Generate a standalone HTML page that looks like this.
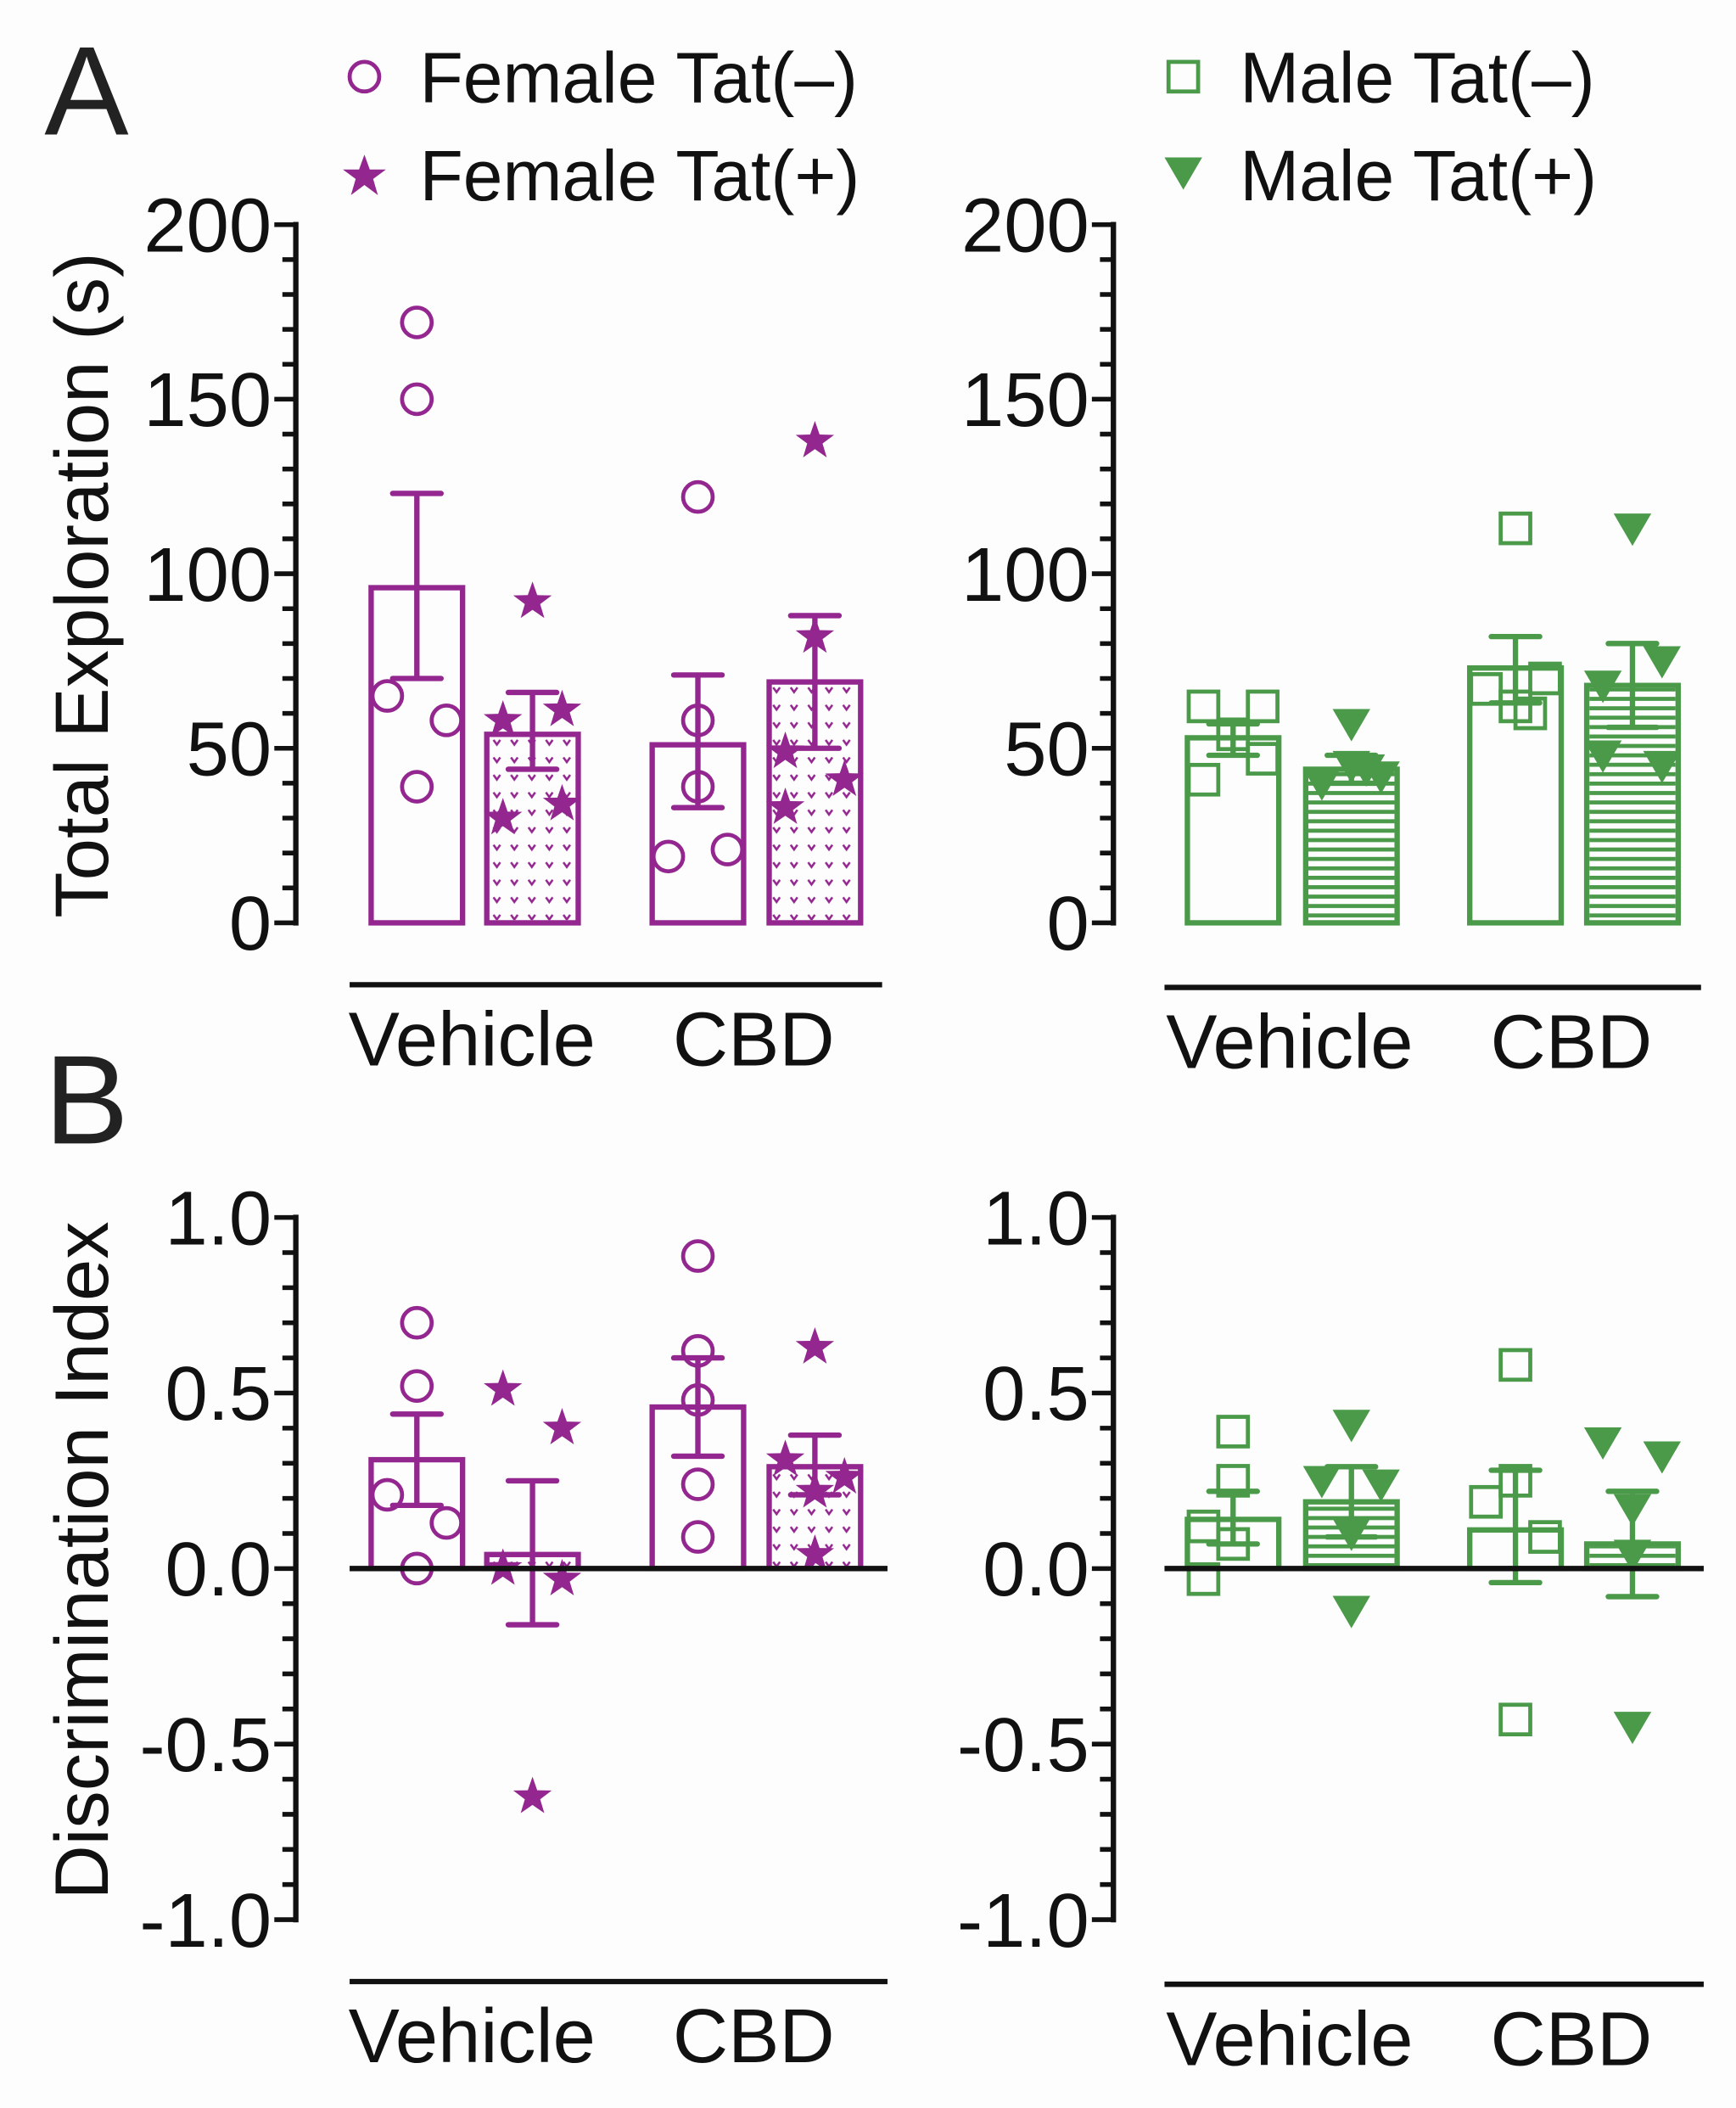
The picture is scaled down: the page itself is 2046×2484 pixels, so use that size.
<!DOCTYPE html>
<html><head><meta charset="utf-8"><style>
html,body{margin:0;padding:0;background:#fdfdfd;}
svg{display:block;font-family:"Liberation Sans",Arial,sans-serif;}
</style></head><body>
<svg id="fig" width="2046" height="2484" viewBox="0 0 1291 1567" preserveAspectRatio="none" xmlns="http://www.w3.org/2000/svg">
<defs>
<pattern id="vpat" patternUnits="userSpaceOnUse" width="13" height="13">
<path d="M3 4 L5.5 7.5 L8 4" fill="none" stroke="#93278f" stroke-width="1.6"/>
</pattern>
<pattern id="hpat" patternUnits="userSpaceOnUse" width="10" height="7">
<rect x="0" y="0" width="10" height="3" fill="#4a9a4a"/>
</pattern>
</defs>
<text x="33" y="100" font-size="94" fill="#222">A</text>
<text x="33" y="850" font-size="94" fill="#222">B</text>
<text transform="translate(80,435) rotate(-90)" text-anchor="middle" font-size="56" fill="#111">Total Exploration (s)</text>
<text transform="translate(80,1160) rotate(-90)" text-anchor="middle" font-size="56" fill="#111">Discrimination Index</text>
<g>
<circle cx="271" cy="57" r="11" fill="none" stroke="#93278f" stroke-width="3"/>
<text x="312" y="76" font-size="53" fill="#111">Female Tat(–)</text>
<path d="M271 115 L275 126 L287 126 L277.5 133 L281 145 L271 137.5 L261 145 L264.5 133 L255 126 L267 126Z" fill="#93278f"/>
<text x="312" y="149" font-size="53" fill="#111">Female Tat(+)</text>
<rect x="869" y="46" width="22" height="22" fill="none" stroke="#4a9a4a" stroke-width="3"/>
<text x="922" y="76" font-size="53" fill="#111">Male Tat(–)</text>
<path d="M866 117 L894 117 L880 141Z" fill="#4a9a4a"/>
<text x="922" y="149" font-size="53" fill="#111">Male Tat(+)</text>
</g>
<g id="plots"></g>
</svg>
<script>
// ---- data ----
const categories = ["Vehicle", "CBD"];
const groups = ["Tat(-)", "Tat(+)"];
const ticksA = [0, 50, 100, 150, 200];
const tickLabelsA = ["0", "50", "100", "150", "200"];
const ticksB = [-1, -0.5, 0, 0.5, 1];
const tickLabelsB = ["-1.0", "-0.5", "0.0", "0.5", "1.0"];
// Total exploration means (Veh Tat-, Veh Tat+, CBD Tat-, CBD Tat+)
const femaleExpMean = [96, 54, 51, 69];
const femaleExpUpper = [123, 66, 71, 88];
const femaleExpLower = [70, 44, 33, 50];
const femaleExpPoints = [[172,150,65,58,39],[92,58,61,30,34],[122,58,39,19,21],[138,82,49,33,41]];
const femaleExpSide = [[0,0,-1,1,0],[0,-1,1,-1,1],[0,0,0,-1,1],[0,0,-1,-1,1]];
const maleExpMean = [53, 44, 73, 68];
const maleExpUpper = [57, 48, 82, 80];
const maleExpLower = [48, 40, 63, 56];
const maleExpPoints = [[62,62,54,47,41],[57,45,40,42,44],[113,70,67,62,60],[113,75,68,48,45]];
const maleExpSide = [[-1,1,0,1,-1],[0,0,-1,1,0.5],[0,1,-1,0,0.5],[0,1,-1,-1,1]];
// Discrimination index
const femaleDiMean = [0.31, 0.04, 0.46, 0.29];
const femaleDiUpper = [0.44, 0.25, 0.60, 0.38];
const femaleDiLower = [0.18, -0.16, 0.32, 0.21];
const femaleDiPoints = [[0.70,0.52,0.21,0.13,0.0],[0.51,0.40,0.0,-0.03,-0.65],[0.89,0.62,0.48,0.24,0.09],[0.63,0.31,0.26,0.22,0.04]];
const femaleDiSide = [[0,0,-1,1,0],[-1,1,-1,1,0],[0,0,0,0,0],[0,-1,1,0,0]];
const maleDiMean = [0.14, 0.19, 0.11, 0.07];
const maleDiUpper = [0.22, 0.29, 0.28, 0.22];
const maleDiLower = [0.07, 0.09, -0.04, -0.08];
const maleDiPoints = [[0.39,0.25,0.12,0.07,-0.03],[0.41,0.25,0.24,0.10,-0.12],[0.58,0.25,0.19,0.09,-0.43],[0.36,0.32,0.17,0.04,-0.45]];
const maleDiSide = [[0,0,-1,0,-1],[0,-1,1,0,0],[0,0,-1,1,0],[-1,1,0,0,0]];

// ---- drawing ----
const NS = "http://www.w3.org/2000/svg";
const root = document.getElementById("plots");
function mk(tag, attrs, parent) {
  const e = document.createElementNS(NS, tag);
  for (const k in attrs) e.setAttribute(k, attrs[k]);
  (parent || root).appendChild(e);
  return e;
}
const PURPLE = "#93278f", GREEN = "#4a9a4a";

function panel(cfg) {
  const g = mk("g", {});
  
  
  const y = v => cfg.yBot - (v - cfg.min) / (cfg.max - cfg.min) * (cfg.yBot - cfg.yTop);
  const ax = mk("line", {x1: cfg.axisX, x2: cfg.axisX, y1: y(cfg.max) - 2, y2: y(cfg.min) + 2, stroke: "#111", "stroke-width": 4}, g);
  
  
  const n = Math.round((cfg.max - cfg.min) / cfg.minor);
  for (let i = 0; i <= n; i++) {
    const v = cfg.min + i * cfg.minor;
    const isMajor = cfg.ticks.some(t => Math.abs(t - v) < 1e-6);
    const t = mk("line", {x1: cfg.axisX - (isMajor ? 16 : 10), x2: cfg.axisX, y1: y(v), y2: y(v), stroke: "#111", "stroke-width": 3.5}, g);
    
    
  }
  cfg.ticks.forEach((tv, i) => {
    const tx = mk("text", {x: cfg.axisX - 18, y: y(tv) + 20, "text-anchor": "end", "font-size": 57, fill: "#111"}, g);
    tx.textContent = cfg.tickLabels[i];
    
    
  });
  const bw = 68;
  cfg.mean.forEach((m, i) => {
    const cx = cfg.centers[i];
    const fill = (i % 2 === 1) ? cfg.pattern : "none";
    const top = Math.min(y(m), y(0)), bot = Math.max(y(m), y(0));
    const b = mk("rect", {x: cx - bw/2, y: top, width: bw, height: bot - top, fill: "#fdfdfd", stroke: cfg.color, "stroke-width": 4}, g);
    
    
    if (fill !== "none") {
      const f = mk("rect", {x: cx - bw/2 + 2, y: top + 2, width: bw - 4, height: Math.max(0, bot - top - 4), fill: fill}, g);
      
      
    }
  });
  cfg.points.forEach((pts, i) => {
    const cx = cfg.centers[i];
    pts.forEach((v, j) => {
      const px = cx + cfg.side[i][j] * 22, py = y(v);
      let e;
      if (cfg.shape[i % 2] === "circle") e = mk("circle", {cx: px, cy: py, r: 11, fill: "none", stroke: cfg.color, "stroke-width": 3}, g);
      else if (cfg.shape[i % 2] === "square") e = mk("rect", {x: px - 11, y: py - 11, width: 22, height: 22, fill: "none", stroke: cfg.color, "stroke-width": 3}, g);
      else if (cfg.shape[i % 2] === "star") {
        let d = "";
        for (let k = 0; k < 10; k++) {
          const r = k % 2 ? 6 : 15, a = -Math.PI/2 + k * Math.PI / 5;
          d += (k ? "L" : "M") + (px + r*Math.cos(a)).toFixed(1) + " " + (py + r*Math.sin(a)).toFixed(1);
        }
        e = mk("path", {d: d + "Z", fill: cfg.color}, g);
      } else e = mk("path", {d: `M${px-14} ${py-11} L${px+14} ${py-11} L${px} ${py+13}Z`, fill: cfg.color}, g);
      
      
    });
  });
  cfg.mean.forEach((m, i) => {
    const cx = cfg.centers[i];
    const l = mk("line", {x1: cx, x2: cx, y1: y(cfg.upper[i]), y2: y(cfg.lower[i]), stroke: cfg.color, "stroke-width": 4}, g);
    
    
    [cfg.upper[i], cfg.lower[i]].forEach(v => {
      const c = mk("line", {x1: cx - 18, x2: cx + 18, y1: y(v), y2: y(v), stroke: cfg.color, "stroke-width": 4, "stroke-linecap": "round"}, g);
      
      
    });
  });
  if (cfg.zeroLine) {
    const z = mk("line", {x1: cfg.xLine[0], x2: cfg.xLine[1], y1: y(0), y2: y(0), stroke: "#111", "stroke-width": 4}, g);
    
    
  }
  const cl = mk("line", {x1: cfg.xLine[0], x2: cfg.xLine[1], y1: cfg.catLineY, y2: cfg.catLineY, stroke: "#111", "stroke-width": 4}, g);
  
  
  categories.forEach((c, k) => {
    const cx = (cfg.centers[2*k] + cfg.centers[2*k+1]) / 2;
    const t = mk("text", {x: cx - 2, y: cfg.catLineY + 60, "text-anchor": "middle", "font-size": 57, fill: "#111"}, g);
    t.textContent = c;
    
    
  });
}
const Lc = [310, 396, 519, 606], Rc = [917, 1005, 1127, 1214];
panel({name: "panel-a-female", axisX: 220, yTop: 167, yBot: 686, min: 0, max: 200, minor: 10, ticks: ticksA, tickLabels: tickLabelsA,
  centers: Lc, mean: femaleExpMean, upper: femaleExpUpper, lower: femaleExpLower, points: femaleExpPoints, side: femaleExpSide,
  color: PURPLE, pattern: "url(#vpat)", shape: ["circle", "star"], xLine: [260, 656], catLineY: 732});
panel({name: "panel-a-male", axisX: 828, yTop: 167, yBot: 686, min: 0, max: 200, minor: 10, ticks: ticksA, tickLabels: tickLabelsA,
  centers: Rc, mean: maleExpMean, upper: maleExpUpper, lower: maleExpLower, points: maleExpPoints, side: maleExpSide,
  color: GREEN, pattern: "url(#hpat)", shape: ["square", "tri"], xLine: [866, 1265], catLineY: 734});
panel({name: "panel-b-female", axisX: 220, yTop: 905, yBot: 1427, min: -1, max: 1, minor: 0.1, ticks: ticksB, tickLabels: tickLabelsB,
  centers: Lc, mean: femaleDiMean, upper: femaleDiUpper, lower: femaleDiLower, points: femaleDiPoints, side: femaleDiSide,
  color: PURPLE, pattern: "url(#vpat)", shape: ["circle", "star"], xLine: [260, 660], catLineY: 1473, zeroLine: true});
panel({name: "panel-b-male", axisX: 828, yTop: 905, yBot: 1427, min: -1, max: 1, minor: 0.1, ticks: ticksB, tickLabels: tickLabelsB,
  centers: Rc, mean: maleDiMean, upper: maleDiUpper, lower: maleDiLower, points: maleDiPoints, side: maleDiSide,
  color: GREEN, pattern: "url(#hpat)", shape: ["square", "tri"], xLine: [866, 1267], catLineY: 1475, zeroLine: true});
</script>
</body></html>
